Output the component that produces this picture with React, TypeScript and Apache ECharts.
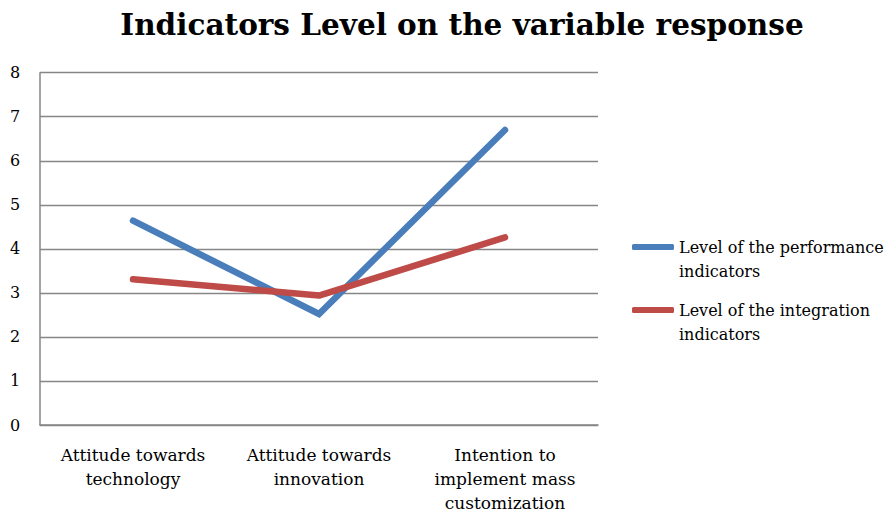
import React, { useEffect, useRef } from "react";
import * as echarts from "echarts";

const categories = [
  "Attitude towards\ntechnology",
  "Attitude towards\ninnovation",
  "Intention to\nimplement mass\ncustomization",
];
const performanceValues = [4.64, 2.52, 6.7];
const integrationValues = [3.31, 2.94, 4.26];
const seriesNames = ["Level of the performance indicators", "Level of the integration indicators"];
const legendLabels: Record<string, string> = {
  "Level of the performance indicators": "\nLevel of the performance\nindicators",
  "Level of the integration indicators": "\nLevel of the integration\nindicators",
};
const titleText = "Indicators Level on the variable response";

const FONT = "'DejaVu Serif', 'Liberation Serif', serif";

export default function App() {
  const ref = useRef<HTMLDivElement>(null);
  useEffect(() => {
    document.body.style.margin = "0";
    if (!ref.current) return;
    const chart = echarts.init(ref.current, undefined, { renderer: "svg" });
    chart.setOption({
      animation: false,
      backgroundColor: "#ffffff",
      title: {
        text: titleText,
        left: 457,
        textAlign: "center",
        top: 4,
        textStyle: { fontFamily: FONT, fontWeight: "bold", fontSize: 29.5, color: "#000" },
      },
      grid: { left: 40, right: 295, top: 72.7, bottom: 86, containLabel: false },
      legend: {
        orient: "vertical",
        left: 627,
        top: 206,
        itemWidth: 42,
        itemHeight: 6,
        itemGap: -9,
        icon: "roundRect",
        formatter: (n: string) => legendLabels[n] || n,
        textStyle: {
          fontFamily: FONT,
          fontSize: 16,
          color: "#000",
          lineHeight: 24,
        },
        data: seriesNames,
      },
      xAxis: {
        type: "category",
        data: categories,
        boundaryGap: true,
        axisLine: { show: true, lineStyle: { color: "#868686", width: 1.5 } },
        axisTick: { show: false },
        axisLabel: {
          fontFamily: FONT,
          fontSize: 17,
          color: "#000",
          lineHeight: 24,
          margin: 18,
          interval: 0,
        },
      },
      yAxis: {
        type: "value",
        min: 0,
        max: 8,
        interval: 1,
        axisLine: { show: true, lineStyle: { color: "#868686", width: 1.5 } },
        axisTick: { show: false },
        splitLine: { show: true, lineStyle: { color: "#868686", width: 1.3 } },
        axisLabel: { fontFamily: FONT, fontSize: 16, color: "#000", margin: 25, align: "center" },
      },
      series: [
        {
          name: seriesNames[0],
          type: "line",
          data: performanceValues,
          symbol: "none",
          lineStyle: { color: "#4A7EBB", width: 6.5, cap: "round", join: "miter" },
          itemStyle: { color: "#4A7EBB" },
        },
        {
          name: seriesNames[1],
          type: "line",
          data: integrationValues,
          symbol: "none",
          lineStyle: { color: "#BE4B48", width: 6.5, cap: "round", join: "round" },
          itemStyle: { color: "#BE4B48" },
        },
      ],
    });
    return () => chart.dispose();
  }, []);
  return <div ref={ref} style={{ width: 893, height: 515 }} />;
}
